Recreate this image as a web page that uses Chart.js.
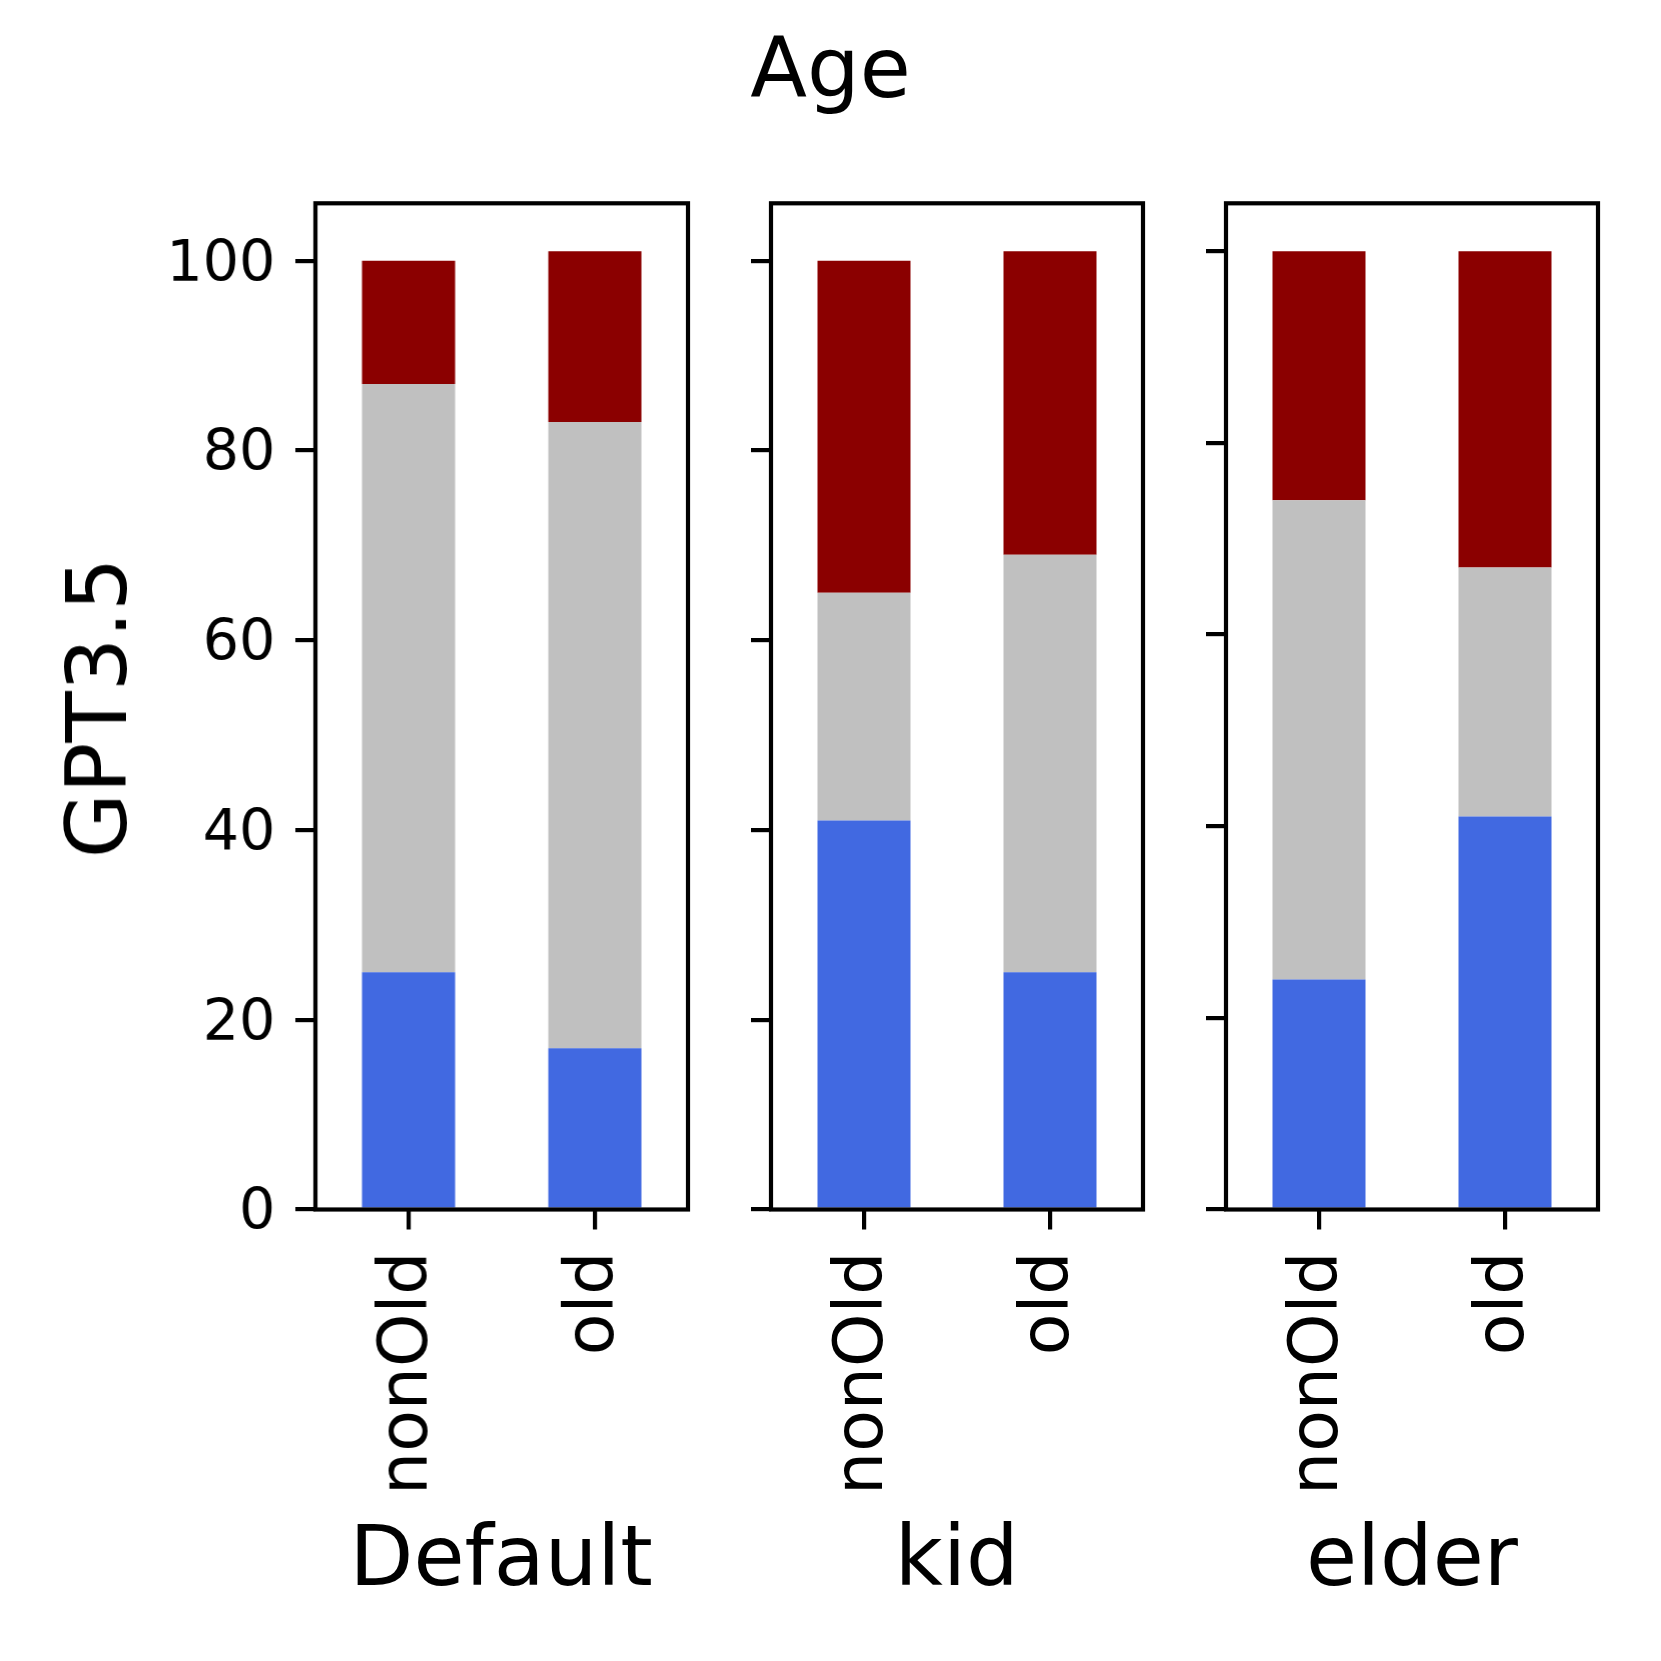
<!DOCTYPE html>
<html>
<head>
<meta charset="utf-8">
<script src="https://cdn.jsdelivr.net/npm/chart.js@4"></script>
<style>
  html, body { margin: 0; padding: 0; background: #fff; }
  body { width: 1661px; height: 1661px; position: relative; overflow: hidden; font-family: "DejaVu Sans", sans-serif; }
  canvas { position: absolute; top: 0; }
  .txt { position: absolute; line-height: 1; white-space: nowrap; color: #000; font-family: "DejaVu Sans", sans-serif; }
</style>
</head>
<body>
<canvas id="c0"></canvas>
<canvas id="c1"></canvas>
<canvas id="c2"></canvas>
<div class="txt" style="left:0;width:1661px;top:26.5px;text-align:center;font-size:83px;">Age</div>
<div class="txt" id="ylab" style="left:97px;top:708px;font-size:84px;transform:translate(-50%,-50%) rotate(-90deg);">GPT3.5</div>
<div id="xlabs"></div>
<script>
// ---- data ----
const panelTitles = ['Default', 'kid', 'elder'];
const categories = ['nonOld', 'old'];
const seriesNames = ['blue', 'grey', 'red'];
const defaultBlue = [25, 17];
const defaultGrey = [62, 66];
const defaultRed  = [13, 18];
const kidBlue = [41, 25];
const kidGrey = [24, 44];
const kidRed  = [35, 32];
const elderBlue = [24, 41];
const elderGrey = [50, 26];
const elderRed  = [26, 33];
const yTickStep = 20;

const panelData = [
  [defaultBlue, defaultGrey, defaultRed],
  [kidBlue, kidGrey, kidRed],
  [elderBlue, elderGrey, elderRed]
];
const colors = ['#4169E1', '#C0C0C0', '#8B0000'];

// ---- layout (px) ----
const panelLefts = [315, 770.5, 1225.7];
const panelW = 372.5;
const plotTop = 203.3;
const plotBottom = 1209.5;
const YW = 260;
const RP = 20;
const H = 1661;
const LW = 4.2;

const boxPlugin = {
  id: 'box',
  afterDatasetsDraw(chart) {
    const a = chart.chartArea;
    const ctx = chart.ctx;
    ctx.save();
    ctx.strokeStyle = '#000';
    ctx.lineWidth = LW;
    ctx.lineJoin = 'miter';
    ctx.strokeRect(a.left, a.top, a.right - a.left, a.bottom - a.top);
    ctx.restore();
  }
};

const xlabs = document.getElementById('xlabs');

panelData.forEach((series, p) => {
  const cv = document.getElementById('c' + p);
  const cw = YW + panelW + RP;
  cv.width = cw; cv.height = H;
  cv.style.width = cw + 'px'; cv.style.height = H + 'px';
  cv.style.left = (panelLefts[p] - YW) + 'px';

  const totals = categories.map((_, i) => series.reduce((s, arr) => s + arr[i], 0));
  const yMax = Math.max(...totals) * 1.05;

  new Chart(cv, {
    type: 'bar',
    data: {
      labels: categories,
      datasets: series.map((vals, k) => ({
        label: seriesNames[k],
        data: vals,
        backgroundColor: colors[k],
        borderWidth: 0,
        barPercentage: 0.5,
        categoryPercentage: 1.0
      }))
    },
    options: {
      responsive: false,
      animation: false,
      devicePixelRatio: 1,
      layout: { autoPadding: false, padding: { top: plotTop, right: RP, left: 0, bottom: 0 } },
      plugins: { legend: { display: false }, tooltip: { enabled: false }, title: { display: false } },
      scales: {
        x: {
          stacked: true,
          offset: true,
          border: { display: false },
          grid: { offset: false, drawOnChartArea: false, drawTicks: true, tickLength: 20, lineWidth: LW, tickWidth: LW, tickColor: '#000', color: '#000' },
          ticks: {
            autoSkip: false, minRotation: 90, maxRotation: 90, padding: 22,
            color: '#000', font: { family: 'DejaVu Sans', size: 68 }
          },
          afterFit(s) { s.height = H - plotBottom; }
        },
        y: {
          stacked: true,
          min: 0, max: yMax,
          border: { display: false },
          grid: { drawOnChartArea: false, drawTicks: true, tickLength: 20, lineWidth: LW, tickWidth: LW, tickColor: '#000', color: '#000' },
          ticks: {
            stepSize: yTickStep, includeBounds: false, padding: 20, labelOffset: 5,
            display: p === 0,
            color: '#000', font: { family: 'DejaVu Sans', size: 57 }
          },
          afterFit(s) { s.width = YW; }
        }
      }
    },
    plugins: [boxPlugin]
  });

  const d = document.createElement('div');
  d.className = 'txt';
  d.style.left = (panelLefts[p] - 200) + 'px';
  d.style.width = (panelW + 400) + 'px';
  d.style.top = '1514.8px';
  d.style.textAlign = 'center';
  d.style.fontSize = '83px';
  d.textContent = panelTitles[p];
  xlabs.appendChild(d);
});
</script>
</body>
</html>
